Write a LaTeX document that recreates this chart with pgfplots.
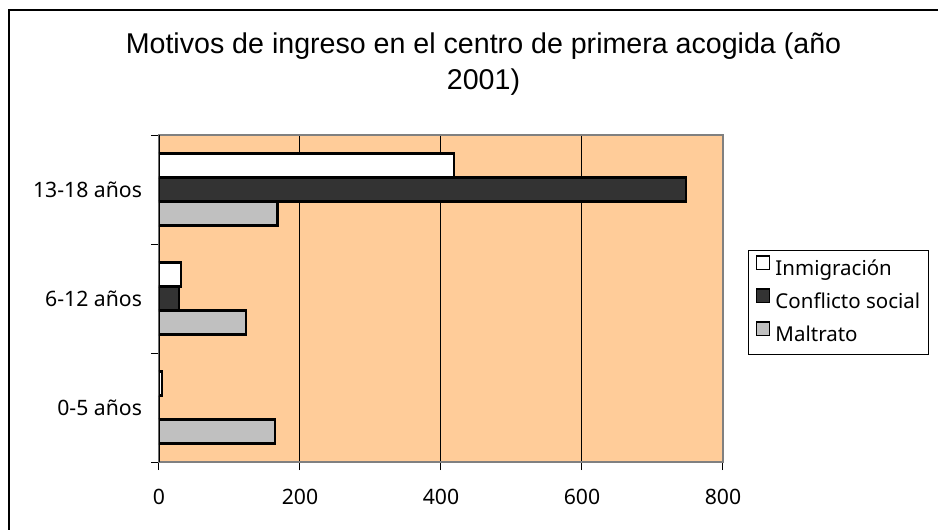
\documentclass[border=0pt]{standalone}
\usepackage{fontspec}
\setmainfont{Noto Sans}
\newfontfamily\titlefont{Liberation Sans}
\usepackage{pgfplots}
\pgfplotsset{compat=1.18}
\definecolor{peach}{HTML}{FFCC99}
\definecolor{darkbar}{HTML}{333333}
\definecolor{lgray}{HTML}{C0C0C0}
\definecolor{framegray}{HTML}{808080}
\begin{document}
\begin{tikzpicture}
\useasboundingbox (0,0) rectangle (469pt,-265pt);
\draw[black, line width=0.6pt] (472pt,-5pt) -- (4.5pt,-5pt) -- (4.5pt,-268pt);
\node[anchor=base, font=\titlefont\fontsize{14.3}{17}\selectfont, inner sep=0pt] at (241.75pt,-26.65pt) {Motivos de ingreso en el centro de primera acogida (año};
\node[anchor=base, font=\titlefont\fontsize{14.3}{17}\selectfont, inner sep=0pt] at (241.75pt,-44.5pt) {2001)};
\begin{axis}[
  at={(79.5pt,-231pt)}, anchor=south west,
  scale only axis, width=282pt, height=163.5pt,
  xmin=0, xmax=800, ymin=-0.5, ymax=2.5,
  xbar, bar width=0.22,
  xtick={0,200,400,600,800},
  ytick={-0.5,0.5,1.5,2.5}, yticklabels={},
  extra y ticks={0,1,2},
  extra y tick labels={0-5 años,6-12 años,13-18 años},
  extra y tick style={major tick length=0pt},
  tick pos=left,
  tick align=outside, major tick length=4pt,
  tick style={black, line width=0.5pt},
  xmajorgrids, grid style={black, line width=0.5pt},
  axis line style={framegray, line width=0.7pt},
  axis background/.style={fill=peach},
  /pgf/number format/assume math mode=true,
  tick label style={font=\fontsize{10.6}{12}\selectfont},
  xticklabel style={yshift=-6pt},
  yticklabel style={xshift=-5pt},
  legend style={at={(1.0443,0.648)}, anchor=north west, draw=black, line width=0.5pt,
    fill=white, font=\fontsize{10.25}{12}\selectfont, inner xsep=2pt, inner ysep=1.25pt,
    nodes={inner sep=2pt, text height=9pt, text depth=3.5pt}, row sep=0pt},
  legend cell align=left,
  legend image code/.code={\path[draw=none, fill=none] (-2pt,3pt) -- (7.5pt,3pt);
    \draw[#1, line width=0.8pt] (0pt,0.1pt) rectangle (6.5pt,6.8pt);},
]
\addplot[fill=white, draw=black, line width=1.1pt, bar shift=0.22] coordinates {(4,0) (31,1) (419,2)};
\addplot[fill=darkbar, draw=black, line width=1.1pt, bar shift=0] coordinates {(0,0) (28,1) (747,2)};
\addplot[fill=lgray, draw=black, line width=1.1pt, bar shift=-0.22] coordinates {(164,0) (123,1) (168,2)};
\legend{Inmigración, Conflicto social, Maltrato}
\draw[black, line width=0.7pt] (axis cs:0,-0.5) -- (axis cs:0,2.5);
\end{axis}
\end{tikzpicture}
\end{document}
